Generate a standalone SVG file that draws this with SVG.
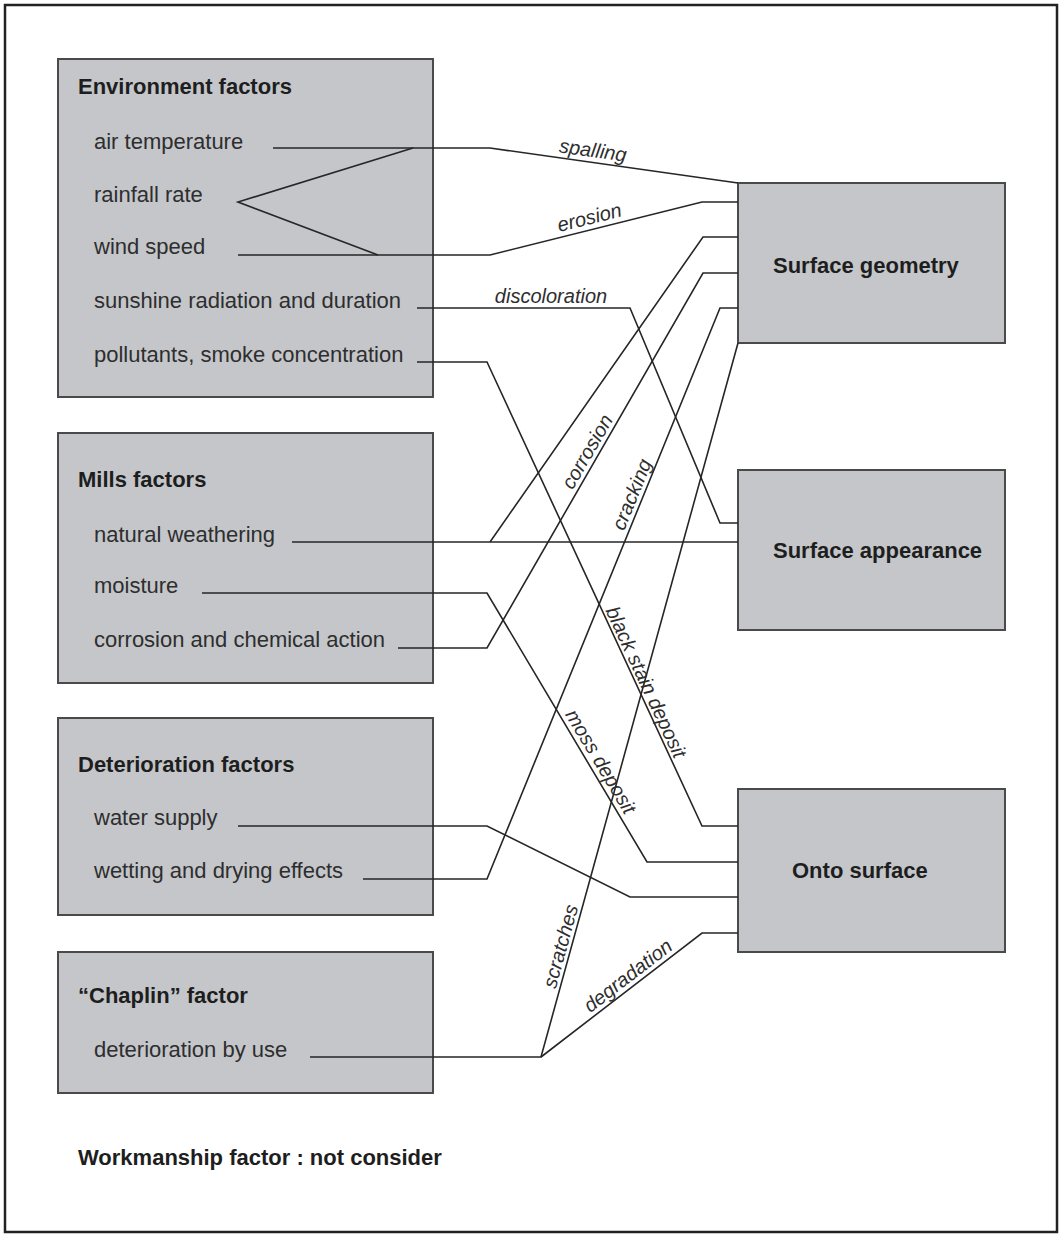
<svg xmlns="http://www.w3.org/2000/svg" width="1062" height="1235" viewBox="0 0 1062 1235">
<style>
.frame{fill:#fff;stroke:#222;stroke-width:2.5}
.box{fill:#c4c6ca;stroke:#4a4a4a;stroke-width:2}
.hd{font-family:"Liberation Sans",Arial,sans-serif;font-weight:bold;font-size:22px;fill:#1e1e1e}
.it{font-family:"Liberation Sans",Arial,sans-serif;font-size:22px;fill:#2e2e2e}
.ln{fill:none;stroke:#262626;stroke-width:1.6;stroke-linejoin:miter}
.lb{font-family:"Liberation Sans",Arial,sans-serif;font-style:italic;font-size:20px;fill:#2e2e2e;text-anchor:middle}
</style>
<rect class="frame" x="5" y="5" width="1052" height="1227"/>

<g id="environment-factors">
<rect class="box" x="58" y="59" width="375" height="338"/>
<text class="hd" x="78" y="94">Environment factors</text>
<text class="it" x="94" y="149">air temperature</text>
<text class="it" x="94" y="202">rainfall rate</text>
<text class="it" x="94" y="254">wind speed</text>
<text class="it" x="94" y="308">sunshine radiation and duration</text>
<text class="it" x="94" y="362">pollutants, smoke concentration</text>
</g>

<g id="mills-factors">
<rect class="box" x="58" y="433" width="375" height="250"/>
<text class="hd" x="78" y="487">Mills factors</text>
<text class="it" x="94" y="542">natural weathering</text>
<text class="it" x="94" y="593">moisture</text>
<text class="it" x="94" y="647">corrosion and chemical action</text>
</g>

<g id="deterioration-factors">
<rect class="box" x="58" y="718" width="375" height="197"/>
<text class="hd" x="78" y="772">Deterioration factors</text>
<text class="it" x="94" y="825">water supply</text>
<text class="it" x="94" y="878">wetting and drying effects</text>
</g>

<g id="chaplin-factor">
<rect class="box" x="58" y="952" width="375" height="141"/>
<text class="hd" x="78" y="1003">“Chaplin” factor</text>
<text class="it" x="94" y="1057">deterioration by use</text>
</g>

<g id="surface-geometry">
<rect class="box" x="738" y="183" width="267" height="160"/>
<text class="hd" x="773" y="273">Surface geometry</text>
</g>

<g id="surface-appearance">
<rect class="box" x="738" y="470" width="267" height="160"/>
<text class="hd" x="773" y="558">Surface appearance</text>
</g>

<g id="onto-surface">
<rect class="box" x="738" y="789" width="267" height="163"/>
<text class="hd" x="792" y="878">Onto surface</text>
</g>

<g id="workmanship-note">
<text class="hd" x="78" y="1165">Workmanship factor : not consider</text>
</g>

<g id="connectors">
<polyline class="ln" points="273,148 490,148 738,183"/>
<polyline class="ln" points="413,148 238,202 378,255"/>
<polyline class="ln" points="238,255 490,255 702,202 738,202"/>
<polyline class="ln" points="417,308 630,308 720,523 738,523"/>
<polyline class="ln" points="417,362 487,362 702,826 738,826"/>
<polyline class="ln" points="292,542 738,542"/>
<polyline class="ln" points="490,542 703,237 738,237"/>
<polyline class="ln" points="202,593 487,593 647,862 738,862"/>
<polyline class="ln" points="398,648 487,648 703,273 738,273"/>
<polyline class="ln" points="238,826 487,826 630,897 738,897"/>
<polyline class="ln" points="363,879 487,879 720,308 738,308"/>
<polyline class="ln" points="310,1057 541,1057 738,343"/>
<polyline class="ln" points="541,1057 702,933 738,933"/>
<text class="lb" transform="translate(592,157) rotate(8)">spalling</text>
<text class="lb" transform="translate(591,224) rotate(-14.1)">erosion</text>
<text class="lb" x="551" y="303">discoloration</text>
<text class="lb" transform="translate(593,455) rotate(-60)">corrosion</text>
<text class="lb" transform="translate(638,497) rotate(-67.8)">cracking</text>
<text class="lb" transform="translate(640,685) rotate(65.1)">black stain deposit</text>
<text class="lb" transform="translate(595,765) rotate(59.2)">moss deposit</text>
<text class="lb" transform="translate(567,948) rotate(-74.6)">scratches</text>
<text class="lb" transform="translate(632,981) rotate(-37.6)">degradation</text>
</g>
</svg>
